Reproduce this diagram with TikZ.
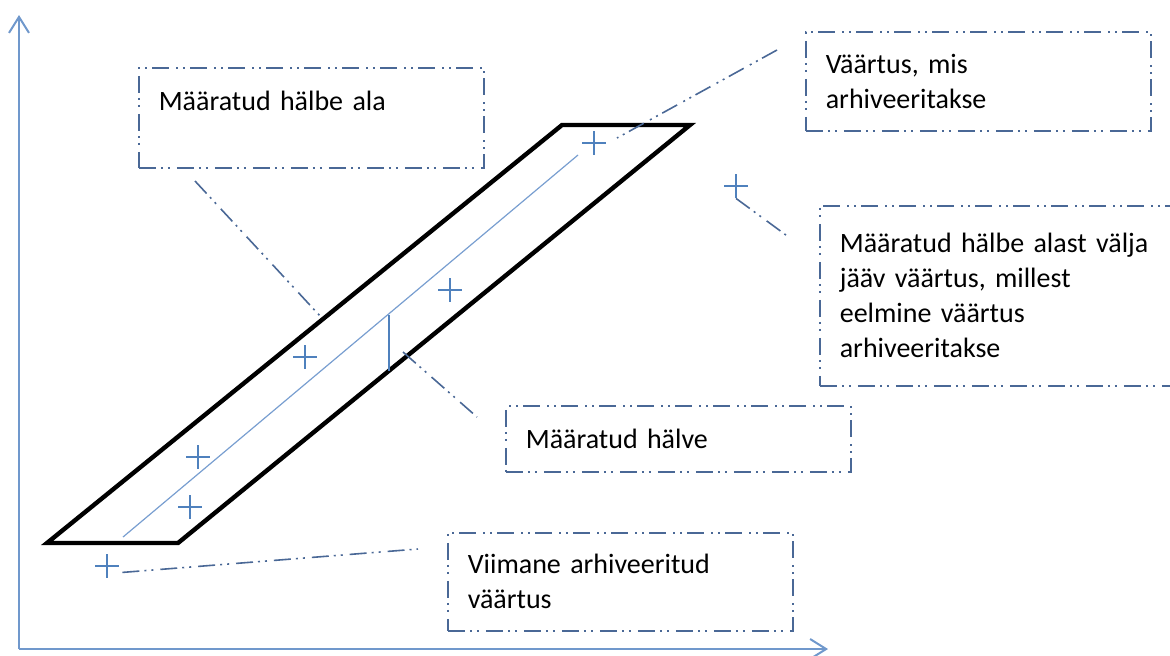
\documentclass[tikz,border=0pt]{standalone}
\usepackage{fontspec}
\setmainfont{Carlito}[WordSpace=0.75]
\usetikzlibrary{arrows.meta}
\definecolor{axLine}{RGB}{112,152,204}
\definecolor{ptLine}{RGB}{79,129,189}
\definecolor{midLine}{RGB}{120,158,208}
\definecolor{noteLine}{RGB}{74,104,150}
\begin{document}
\begin{tikzpicture}[x=0.5pt,y=-0.5pt,font=\fontsize{14}{17.5}\selectfont,
  ax/.style={draw=axLine,line width=1pt,-{Straight Barb[length=8pt,width=10pt,line width=1pt]}},
  band/.style={draw=black,line width=2.2pt},
  mid/.style={draw=midLine,line width=0.6pt},
  dev/.style={draw=ptLine,line width=0.8pt},
  ddd/.style={dash pattern=on 8.5pt off 2.5pt on 1pt off 2.5pt on 1pt off 3.5pt},
  note/.style={draw=noteLine,line width=0.8pt,ddd,anchor=north west,align=left,
    inner xsep=10pt,inner ysep=0pt,text width=152.5pt,minimum width=172.5pt},
  lead/.style={draw=noteLine,line width=0.8pt,ddd},
  pt/.style={minimum size=12pt,inner sep=0pt,
    path picture={\draw[ptLine,line width=1pt]
      (path picture bounding box.north) -- (path picture bounding box.south)
      (path picture bounding box.west) -- (path picture bounding box.east);}}]
\useasboundingbox (0,0) rectangle (1170,655);

% axes
\coordinate (o) at (19,649);
\coordinate (ytop) at (19,15);
\coordinate (xend) at (828,649);
\draw[ax] (o) -- (ytop);
\draw[ax] (o) -- (xend);

% deviation band
\coordinate (bl) at (47,543);
\coordinate (br) at (178,543);
\coordinate (tr) at (690,125);
\coordinate (tl) at (562,125);
\draw[band] (bl) -- (br) -- (tr) -- (tl) -- cycle;
\coordinate (m0) at (123,537);
\coordinate (m1) at (578,155);
\draw[mid] (m0) -- (m1);
\coordinate (d0) at (389,315);
\coordinate (d1) at (389,371);
\draw[dev] (d0) -- (d1);

% values
\node[pt] (p1) at (594,143) {};
\node[pt] (p2) at (450,290) {};
\node[pt] (p3) at (305,357) {};
\node[pt] (p4) at (198,457) {};
\node[pt] (p5) at (190,507) {};
\node[pt] (p6) at (107,566) {};
\node[pt] (p7) at (736,186) {};

% notes
\node[note,minimum height=50pt] (ala) at (138,67) {Määratud hälbe ala\\\mbox{}};
\node[note,minimum height=49.5pt] (arh) at (805,31) {Väärtus, mis\\arhiveeritakse};
\node[note,minimum height=90pt,text width=168pt,minimum width=188pt] (valja) at (819,205)
  {Määratud hälbe alast välja\\jääv väärtus, millest\\eelmine väärtus\\arhiveeritakse};
\node[note,minimum height=33pt] (halve) at (505,405) {Määratud hälve};
\node[note,minimum height=49pt] (viim) at (447,532) {Viimane arhiveeritud\\väärtus};

% leaders
\coordinate (c1a) at (195,181);  \coordinate (c1b) at (321,317);
\coordinate (c2a) at (777,50);   \coordinate (c2b) at (617,138);
\coordinate (c3b) at (790,238);
\coordinate (c4a) at (403,352);  \coordinate (c4b) at (477,417);
\coordinate (c5b) at (418,549);
\draw[lead] (c1a) -- (c1b);
\draw[lead] (c2a) -- (c2b);
\draw[lead] (p7.south) -- (c3b);
\draw[lead] (c4a) -- (c4b);
\draw[lead] ([shift={(3,-6)}]p6.south east) -- (c5b);
\end{tikzpicture}
\end{document}
